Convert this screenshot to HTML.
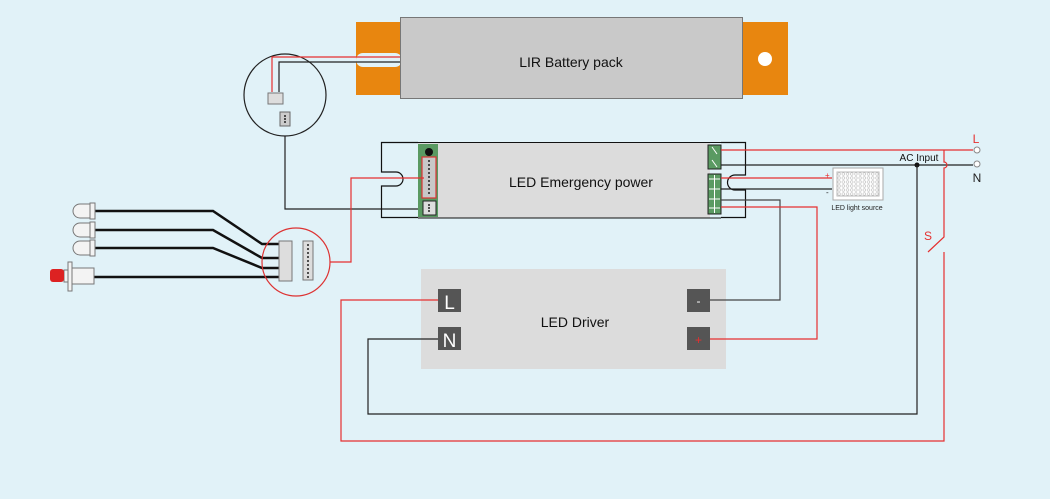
<!DOCTYPE html>
<html><head><meta charset="utf-8"><style>
html,body{margin:0;padding:0;background:#e1f2f8;}
svg{display:block;font-family:"Liberation Sans",sans-serif;}
</style></head><body>
<svg width="1050" height="499" viewBox="0 0 1050 499" xmlns="http://www.w3.org/2000/svg">
<defs>
<pattern id="dots" x="837" y="172" width="4.2" height="4" patternUnits="userSpaceOnUse">
<circle cx="2.1" cy="2" r="1.3" fill="none" stroke="#bbb" stroke-width="0.6"/>
</pattern>
</defs>
<rect width="1050" height="499" fill="#e1f2f8"/>
<!-- battery -->
<rect x="356" y="22" width="46" height="73" fill="#e8860f"/>
<rect x="356" y="53" width="46" height="14" rx="7" fill="#e1f2f8"/>
<rect x="742" y="22" width="46" height="73" fill="#e8860f"/>
<circle cx="765" cy="59" r="7" fill="#fff"/>
<rect x="400.5" y="17.5" width="342" height="81" fill="#c9c9c9" stroke="#777"/>
<text x="571" y="67" font-size="14" text-anchor="middle" fill="#111">LIR Battery pack</text>
<!-- circle1 -->
<circle cx="285" cy="95" r="41" fill="none" stroke="#222" stroke-width="1.2"/>
<polyline points="400,57 272,57 272,92" fill="none" stroke="#e53030" stroke-width="1.2"/>
<polyline points="400,62 279,62 279,92" fill="none" stroke="#222" stroke-width="1.2"/>
<rect x="268" y="93" width="15" height="11" fill="#ddd" stroke="#777"/>
<rect x="280" y="112" width="10" height="14" fill="#ccc" stroke="#666"/>
<circle cx="285" cy="116" r="1" fill="#222"/><circle cx="285" cy="119" r="1" fill="#222"/><circle cx="285" cy="122" r="1" fill="#222"/>
<polyline points="285,136 285,209 425,209" fill="none" stroke="#222" stroke-width="1.2"/>
<!-- emergency -->
<rect x="418" y="142" width="292" height="76" fill="#dcdcdc"/>
<path d="M418,142.5 H381.5 V172 H396 A7,7 0 0 1 396,186 H381.5 V217.5 H418" fill="none" stroke="#111" stroke-width="1.2"/>
<path d="M721,142.5 H745.5 V175 H735 A7,7 0 0 0 735,190 H745.5 V217.5 H721" fill="none" stroke="#111" stroke-width="1.2"/>
<line x1="418" y1="218" x2="721" y2="218" stroke="#111"/>
<line x1="418" y1="142.5" x2="721" y2="142.5" stroke="#111"/>
<rect x="418" y="144" width="20" height="73" fill="#5a9a62"/>
<circle cx="429" cy="152" r="4" fill="#111"/>
<rect x="422" y="157" width="14" height="41" fill="#c8c8c8" stroke="#d33" stroke-width="1.2"/>
<g fill="#222"><circle cx="429" cy="161" r="1"/><circle cx="429" cy="165" r="1"/><circle cx="429" cy="169" r="1"/><circle cx="429" cy="173" r="1"/><circle cx="429" cy="177" r="1"/><circle cx="429" cy="181" r="1"/><circle cx="429" cy="185" r="1"/><circle cx="429" cy="189" r="1"/><circle cx="429" cy="193" r="1"/></g>
<rect x="423" y="201" width="13" height="14" fill="#ddd" stroke="#222"/>
<circle cx="429" cy="205" r="1" fill="#222"/><circle cx="429" cy="208" r="1" fill="#222"/><circle cx="429" cy="211" r="1" fill="#222"/>
<text x="581" y="187" font-size="14" text-anchor="middle" fill="#111">LED Emergency power</text>
<rect x="708" y="145" width="13" height="24" fill="#5a9a62" stroke="#222"/>
<rect x="708" y="174" width="13" height="40" fill="#5a9a62" stroke="#222"/>
<g stroke="#fff" stroke-width="1"><line x1="712" y1="147" x2="717" y2="154"/><line x1="712" y1="160" x2="717" y2="167"/>
<line x1="709" y1="179" x2="720" y2="179"/><line x1="714.5" y1="175" x2="714.5" y2="213"/><line x1="709" y1="189" x2="720" y2="189"/><line x1="709" y1="199" x2="720" y2="199"/><line x1="709" y1="208" x2="720" y2="208"/></g>
<!-- driver box -->
<rect x="421" y="269" width="305" height="100" fill="#dcdcdc"/>
<!-- right wires -->
<line x1="721" y1="150" x2="973" y2="150" stroke="#e53030" stroke-width="1.2"/>
<line x1="721" y1="165" x2="973" y2="165" stroke="#222" stroke-width="1.2"/>
<line x1="721" y1="178" x2="832" y2="178" stroke="#e53030" stroke-width="1.2"/>
<line x1="721" y1="189" x2="832" y2="189" stroke="#222" stroke-width="1.2"/>
<polyline points="721,200 780,200 780,300 710,300" fill="none" stroke="#444" stroke-width="1.2"/>
<polyline points="721,207 817,207 817,339 710,339" fill="none" stroke="#e53030" stroke-width="1.2"/>
<text x="825" y="178" font-size="8" fill="#e53030">+</text>
<text x="826" y="195" font-size="8" fill="#222">-</text>
<rect x="833" y="168" width="50" height="32" fill="#fff" stroke="#aaa"/>
<rect x="837" y="172" width="42" height="24" fill="url(#dots)" stroke="#bbb"/>
<text x="857" y="210" font-size="7" text-anchor="middle" fill="#222">LED light source</text>
<circle cx="977" cy="150" r="3" fill="#fff" stroke="#888"/>
<circle cx="977" cy="164" r="3" fill="#fff" stroke="#888"/>
<text x="976" y="143" font-size="12" text-anchor="middle" fill="#e53030">L</text>
<text x="977" y="182" font-size="12" text-anchor="middle" fill="#222">N</text>
<text x="919" y="161" font-size="10" text-anchor="middle" fill="#111">AC Input</text>
<circle cx="917" cy="165" r="2.5" fill="#111"/>
<path d="M944,150 V162 A3,3 0 0 1 944,168 V237 L928,252" fill="none" stroke="#e53030" stroke-width="1.2"/>
<text x="928" y="240" font-size="12" text-anchor="middle" fill="#e53030">S</text>
<polyline points="944,252 944,441 341,441 341,300 438,300" fill="none" stroke="#e53030" stroke-width="1.2"/>
<polyline points="917,165 917,414 368,414 368,339 438,339" fill="none" stroke="#222" stroke-width="1.2"/>
<!-- driver terminals -->
<rect x="438" y="289" width="23" height="23" fill="#555"/><text x="449.5" y="309" font-size="19" text-anchor="middle" fill="#fff">L</text>
<rect x="438" y="327" width="23" height="23" fill="#555"/><text x="449.5" y="347" font-size="19" text-anchor="middle" fill="#fff">N</text>
<rect x="687" y="289" width="23" height="23" fill="#555"/><text x="698.5" y="305" font-size="12" text-anchor="middle" fill="#fff">-</text>
<rect x="687" y="327" width="23" height="23" fill="#555"/><text x="698.5" y="344" font-size="12" text-anchor="middle" fill="#e53030">+</text>
<text x="575" y="327" font-size="14" text-anchor="middle" fill="#111">LED Driver</text>
<!-- left cluster -->
<polyline points="330,262 351,262 351,178 424,178" fill="none" stroke="#e53030" stroke-width="1.2"/>
<g stroke="#111" stroke-width="2.5" fill="none">
<polyline points="94,211 213,211 262,244 280,244"/>
<polyline points="94,230 213,230 262,258 280,258"/>
<polyline points="94,248 213,248 262,268 280,268"/>
<line x1="94" y1="277" x2="280" y2="277"/>
</g>
<circle cx="296" cy="262" r="34" fill="none" stroke="#d33" stroke-width="1.2"/>
<rect x="279" y="241" width="13" height="40" fill="#ddd" stroke="#777"/>
<rect x="303" y="241" width="10" height="39" fill="#ddd" stroke="#777"/>
<g fill="#222"><circle cx="308" cy="245" r="1"/><circle cx="308" cy="249" r="1"/><circle cx="308" cy="253" r="1"/><circle cx="308" cy="257" r="1"/><circle cx="308" cy="261" r="1"/><circle cx="308" cy="265" r="1"/><circle cx="308" cy="269" r="1"/><circle cx="308" cy="273" r="1"/><circle cx="308" cy="277" r="1"/></g>
<g fill="#f3f3f3" stroke="#777">
<path d="M90,204 H80 A7,7 0 0 0 80,218 H90 Z"/><rect x="90" y="203" width="5" height="16"/>
<path d="M90,223 H80 A7,7 0 0 0 80,237 H90 Z"/><rect x="90" y="222" width="5" height="16"/>
<path d="M90,241 H80 A7,7 0 0 0 80,255 H90 Z"/><rect x="90" y="240" width="5" height="16"/>
<rect x="72" y="268" width="22" height="16"/><rect x="64" y="270" width="8" height="12"/><rect x="68" y="262" width="4" height="29"/>
</g>
<rect x="50" y="269" width="14" height="13" rx="3" fill="#d22"/>
</svg>
</body></html>
